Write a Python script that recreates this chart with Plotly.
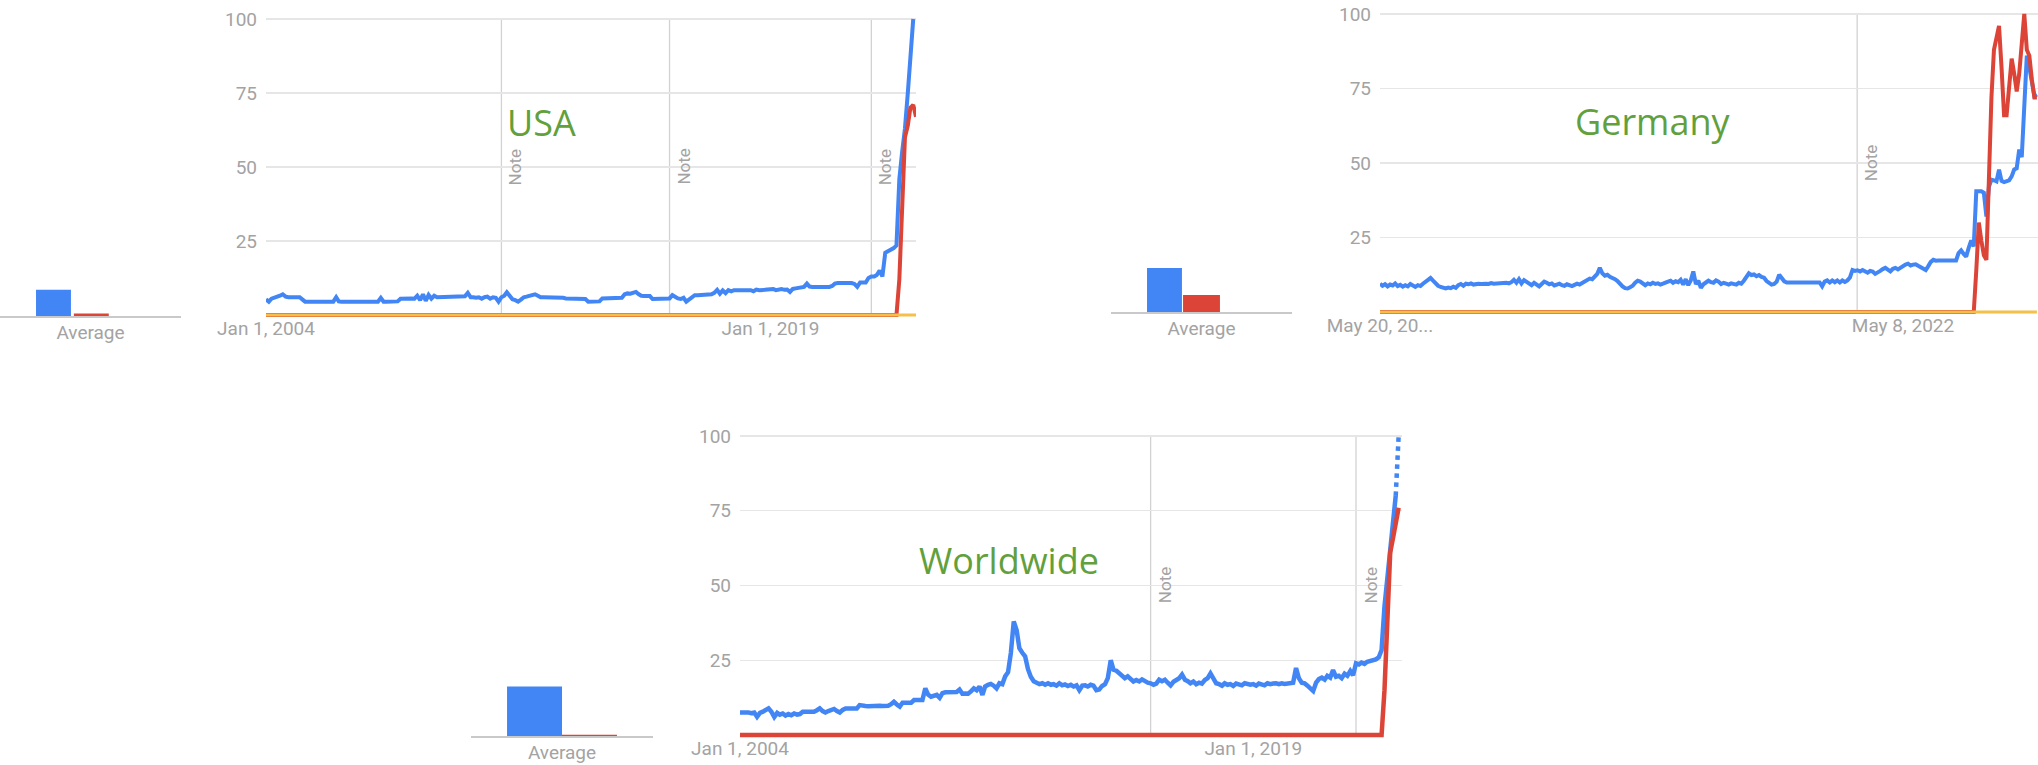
import pandas as pd
import plotly.graph_objects as go

W, H = 2038, 765

# ---------------- data ----------------
# USA, monthly, Jan 2004 - May 2023
usa_months = pd.date_range("2004-01-01", "2023-05-01", freq="MS")
usa_blue = [
    5.3, 4.5, 5.5, 5.8, 6.0, 6.5, 7.0, 6.2, 6.0, 6.0, 6.0, 6.0,      # 2004
    6.0, 5.2, 4.5, 4.5, 4.5, 4.5, 4.5, 4.5, 4.5, 4.5, 4.5, 4.5,      # 2005
    4.5, 6.0, 4.6, 4.5, 4.5, 4.5, 4.5, 4.5, 4.5, 4.5, 4.5, 4.5,      # 2006
    4.5, 4.5, 4.5, 4.5, 4.5, 5.8, 4.5, 4.5, 4.5, 4.5, 4.5, 4.6,      # 2007
    5.5, 5.6, 5.5, 5.6, 5.6, 5.5, 6.5, 5.0, 7.0, 4.8, 6.8, 5.5,      # 2008
    6.5, 6.0, 6.0, 6.0, 6.0, 6.1, 6.0, 6.0, 6.0, 6.2, 6.0, 6.3,      # 2009
    7.5, 6.0, 6.0, 5.8, 6.0, 5.5, 6.0, 6.2, 5.5, 6.0, 5.8, 4.5,      # 2010
    6.0, 6.5, 7.7, 6.2, 5.3, 5.0, 4.5, 5.2, 6.0, 6.2, 6.5, 7.0,      # 2011
    7.0, 6.5, 6.0, 6.0, 6.0, 6.0, 6.0, 6.0, 6.0, 6.0, 5.8, 5.6,      # 2012
    5.6, 5.6, 5.6, 5.6, 5.6, 5.6, 5.4, 4.5, 4.5, 4.5, 4.5, 4.6,      # 2013
    5.6, 5.6, 5.6, 5.6, 5.6, 5.6, 5.6, 5.8, 7.0, 7.3, 7.2, 7.4,      # 2014
    7.8, 7.0, 6.5, 6.4, 6.4, 6.4, 5.4, 5.4, 5.4, 5.4, 5.4, 5.4,      # 2015
    5.6, 6.7, 6.0, 5.6, 5.4, 5.8, 4.5, 5.2, 6.3, 6.7, 6.7, 6.7,      # 2016
    6.7, 6.8, 6.9, 7.0, 7.5, 8.5, 7.2, 8.3, 7.4, 8.4, 8.0, 8.4,      # 2017
    8.4, 8.4, 8.5, 8.3, 8.4, 8.4, 8.0, 8.6, 8.4, 8.6, 8.5, 8.6,      # 2018
    8.6, 8.8, 8.4, 8.6, 8.8, 8.5, 8.6, 7.8, 8.8, 9.0, 9.2, 9.3,      # 2019
    9.5, 10.6, 9.6, 9.5, 9.5, 9.5, 9.4, 9.5, 9.6, 9.5, 9.8, 10.6,    # 2020
    10.8, 10.8, 10.7, 10.9, 10.8, 10.8, 10.5, 9.5, 11.0, 11.0, 11.0, 12.5,  # 2021
    13.0, 13.0, 13.5, 15.0, 13.0, 21.0, 21.5, 22.4, 22.6, 23.5, 46.0, 55.0,  # 2022
    63.0, 75.0, 88.0, 100.0, None,                                   # 2023
]
usa_red = [0] * 226 + [12, 36, 60, 64, 70, 71, 67]
usa_yellow = [0] * 233
usa_avg = [8.8, 0.8]
usa_ticks = ["2004-01-01", "2019-01-01"]
usa_ticktext = ["Jan 1, 2004", "Jan 1, 2019"]
usa_notes = ["2011-01-01", "2016-01-01", "2022-01-01"]

# Worldwide, monthly, Jan 2004 - Apr 2023
world_months = pd.date_range("2004-01-01", "2023-04-01", freq="MS")
world_blue = [
    7.5, 7.6, 7.4, 7.5, 7.3, 7.5, 6.1, 7.4, 7.8, 8.2, 8.9, 7.8,      # 2004
    6.0, 7.4, 6.8, 7.2, 6.5, 7.0, 6.6, 7.2, 6.8, 7.0, 7.8, 7.8,      # 2005
    7.8, 7.9, 7.8, 8.3, 8.9, 8.0, 7.5, 8.0, 8.3, 8.7, 8.0, 7.5,      # 2006
    8.4, 8.9, 8.9, 8.8, 8.9, 8.9, 10.0, 9.7, 9.7, 9.6, 9.7, 9.7,     # 2007
    9.7, 9.8, 9.7, 9.7, 9.8, 10.3, 11.1, 10.2, 9.5, 10.8, 10.8, 10.9,  # 2008
    10.8, 11.7, 11.7, 11.8, 11.7, 15.6, 13.5, 12.8, 13.2, 13.4, 12.4, 14.0,  # 2009
    14.3, 14.3, 14.2, 14.3, 14.4, 15.2, 13.8, 13.9, 13.8, 14.6, 15.6, 15.0,  # 2010
    16.2, 13.4, 16.2, 16.8, 17.1, 16.5, 15.6, 17.3, 17.0, 19.6, 21.0, 27.4,  # 2011
    38.0, 35.0, 29.0, 27.5, 26.3, 22.0, 19.5, 18.0, 17.3, 17.0, 17.3, 16.8,  # 2012
    17.3, 16.8, 17.0, 16.5, 17.3, 16.6, 16.9, 16.4, 16.8, 16.2, 16.6, 15.0,  # 2013
    16.5, 16.6, 16.2, 16.8, 16.5, 15.0, 15.2, 16.4, 17.0, 19.0, 25.0, 21.8,  # 2014
    21.5, 20.5, 19.6, 19.0, 19.6, 18.5, 17.9, 18.4, 17.9, 18.6, 17.9, 17.5,  # 2015
    17.3, 16.8, 17.2, 18.5, 18.0, 18.5, 17.5, 16.6, 17.8, 18.4, 19.0, 20.2,  # 2016
    18.5, 18.0, 17.3, 17.9, 17.0, 17.5, 17.2, 18.4, 19.0, 20.6, 18.5, 17.3,  # 2017
    17.0, 16.5, 17.3, 16.8, 17.0, 16.4, 17.2, 16.9, 16.6, 17.3, 17.0, 16.8,  # 2018
    17.0, 16.5, 17.2, 17.0, 16.6, 17.3, 17.0, 17.2, 17.3, 17.0, 17.3, 17.1,  # 2019
    17.3, 17.2, 17.5, 22.4, 19.0, 17.5, 17.3, 16.5, 15.8, 14.7, 17.5, 18.7,  # 2020
    19.2, 18.5, 19.8, 19.2, 21.7, 19.5, 19.8, 19.0, 20.5, 19.8, 21.4, 20.0,  # 2021
    24.0, 23.6, 24.2, 23.8, 24.5, 24.8, 25.0, 25.3, 26.0, 28.4, 43.0, 52.0,  # 2022
    61.0, 70.0, 80.0, 100.0,                                          # 2023
]
world_red = [0] * 226 + [15, 38, 61, 66, 71, 76]
world_avg = [16.5, 0.4]
world_ticks = ["2004-01-01", "2019-01-01"]
world_ticktext = ["Jan 1, 2004", "Jan 1, 2019"]
world_notes = ["2016-01-01", "2022-01-01"]

# Germany, weekly, May 20 2018 - May 14 2023
germany_weeks = pd.date_range("2018-05-20", "2023-05-14", freq="7D")
germany_blue = [
    9.5, 8.8, 9.3, 8.6, 9.2, 8.9, 9.6, 8.7, 9.1, 8.5, 9.0, 8.6, 9.4, 8.8, 8.4, 9.0, 8.7, 9.5, 10.2,
    10.8, 11.4, 10.5,
    9.6, 8.8, 8.4, 8.0, 7.9, 8.2, 8.0, 8.5, 8.1,
    9.0, 9.4, 8.8, 9.5, 9.3, 9.6, 9.2, 9.4, 9.5, 9.4, 9.6, 9.5, 9.4, 9.7, 9.5, 9.6, 9.5, 9.7, 9.6, 9.8, 9.6, 10.0,
    10.8, 9.8, 11.0, 9.6, 10.7, 10.0,
    9.5, 9.0, 9.8, 9.2, 8.6, 9.4, 10.2, 9.8, 9.3, 9.6, 8.9, 9.2, 9.5, 9.0, 8.8, 9.3, 9.0, 8.7, 9.1, 9.5, 9.2, 9.8, 10.3, 10.8,
    11.2, 11.0, 12.0, 12.8, 14.8,
    13.0, 12.2, 12.5, 11.8, 11.5, 11.0, 10.4,
    9.4, 8.6, 8.0, 7.9, 8.3, 8.8,
    9.8, 10.5, 10.2, 9.4,
    9.0, 9.6, 9.3, 9.8, 9.4, 9.6, 9.2, 9.5, 9.7,
    10.2, 10.5, 9.8, 10.3, 10.0,
    10.8, 9.2, 11.0, 9.0, 10.6, 13.6, 9.4, 10.5, 8.1,
    9.3, 9.9, 10.5, 10.0, 9.8, 10.6, 10.2, 9.4, 9.8, 9.5, 9.2, 9.6, 9.4, 9.2, 9.8, 9.5, 10.5, 11.8,
    13.0, 12.4, 12.6, 12.0, 12.4, 11.8, 11.5,
    10.4, 9.6, 9.2, 9.4, 10.2,
    12.5, 11.2, 10.3,
    9.9, 9.9, 9.9, 9.9, 9.9, 9.9, 9.9, 9.9, 9.9, 9.9, 9.9, 9.9, 9.9, 9.9,
    8.6,
    10.2, 10.6, 9.9, 10.6, 10.0, 10.6, 9.9, 10.6, 10.1, 10.6, 11.6,
    14.1, 13.8, 14.0,
    13.6, 14.1, 13.7, 13.2, 13.8, 13.6, 12.8,
    13.2, 13.8, 14.4, 14.8, 14.2, 13.6, 14.5, 14.8, 14.3,
    14.9, 15.3, 15.9, 16.2, 15.6, 15.9, 16.0, 15.5,
    15.0, 14.4, 14.1, 15.4, 16.8,
    17.5, 17.2, 17.3, 17.4, 17.2, 17.3, 17.3, 17.2, 17.4, 17.3,
    19.8, 20.7, 19.5, 18.6, 21.5, 24.0, 22.0,
    40.5, 40.5, 40.5, 40.0,
    32.0,
    42.0, 44.4, 44.2, 43.8,
    47.8,
    44.0, 43.6, 43.8, 44.2, 45.5,
    47.8, 48.2,
    54.5, 52.0, 71.0, 86.0, 82.0, 78.0, 72.5, 73.0,
]
germany_red = [0] * 236 + [14, 30, 24, 19, 17.5, 45, 72, 88, 92, 96, 82, 66, 66, 75, 85,
                           80, 74, 80, 90, 100, 88, 86, 78, 72, 72]
germany_yellow = [0] * 261
germany_avg = [14.8, 5.7]
germany_ticks = ["2018-05-20", "2022-05-08"]
germany_ticktext = ["May 20, 20...", "May 8, 2022"]
germany_notes = ["2022-01-01"]

# ---------------- styling ----------------
BLUE = "#4285f4"
RED = "#db4437"
YELLOW = "#f4c04a"
GREEN = "#62a03c"
GRID = "#e6e6e6"
NOTE_LINE = "#d2d2d2"
TXT = "#a3a3a3"
BASE = "#c9c9c9"
TICKFONT = dict(family="Roboto", size=19, color=TXT)

fig = go.Figure()
layout = dict(
    template="none",
    width=W, height=H, margin=dict(l=0, r=0, t=0, b=0, pad=0, autoexpand=False),
    paper_bgcolor="white", plot_bgcolor="white",
    showlegend=False, barmode="overlay",
    annotations=[], shapes=[],
)


def line_panel(idx, xpx, y0, y100, xrange, ticks, ticktext, notes):
    s = (y0 - y100) / 100.0
    layout[f"xaxis{idx}"] = dict(
        domain=[xpx[0] / W, xpx[1] / W], range=xrange, type="date",
        tickvals=ticks, ticktext=ticktext, tickfont=TICKFONT, showgrid=False,
        zeroline=False, showline=False, ticks="", anchor=f"y{idx}",
        automargin=False, ticklabelstandoff=-6,
    )
    layout[f"yaxis{idx}"] = dict(
        domain=[1 - (y0 + 2 * s) / H, 1 - (y100 - 2 * s) / H], range=[-2, 102],
        tickvals=[25, 50, 75, 100], ticktext=["25", "50", "75", "100"],
        tickfont=TICKFONT, gridcolor=GRID, gridwidth=1.3, zeroline=False,
        showline=False, ticks="", anchor=f"x{idx}", ticklabelstandoff=8,
        automargin=False,
    )
    for d in notes:
        layout["shapes"].append(dict(
            type="line", xref=f"x{idx}", yref=f"y{idx}", x0=d, x1=d, y0=0, y1=100,
            line=dict(color=NOTE_LINE, width=1.3), layer="below"))
        layout["annotations"].append(dict(
            xref=f"x{idx}", yref=f"y{idx}", x=d, y=50, text="Note", textangle=-90,
            showarrow=False, xanchor="left", yanchor="middle", xshift=2,
            font=dict(family="Roboto", size=17, color=TXT)))


def bar_panel(idx, xpx, y0, y100, values, offsets, widths):
    layout[f"xaxis{idx}"] = dict(
        domain=[xpx[0] / W, xpx[1] / W], type="category", range=[-0.5, 0.5],
        showgrid=False, zeroline=False, showline=True, linecolor=BASE, linewidth=2,
        ticks="", tickfont=TICKFONT, anchor=f"y{idx}", automargin=False,
        ticklabelstandoff=-2,
    )
    layout[f"yaxis{idx}"] = dict(
        domain=[1 - y0 / H, 1 - y100 / H], range=[0, 100], visible=False,
        anchor=f"x{idx}", automargin=False,
    )
    for v, off, w, c in zip(values, offsets, widths, [BLUE, RED]):
        fig.add_trace(go.Bar(
            x=["Average"], y=[v], offset=off, width=w, marker=dict(color=c, line=dict(width=0)),
            xaxis=f"x{idx}", yaxis=f"y{idx}", hoverinfo="skip"))


def add_line(idx, x, y, color, width, dash="solid"):
    fig.add_trace(go.Scatter(
        x=x, y=y, mode="lines", line=dict(color=color, width=width, dash=dash),
        xaxis=f"x{idx}", yaxis=f"y{idx}", connectgaps=False, hoverinfo="skip"))


def label(text, px, py):
    layout["annotations"].append(dict(
        xref="paper", yref="paper", x=px / W, y=1 - py / H, text=text, showarrow=False,
        xanchor="center", yanchor="middle",
        font=dict(family="Open Sans", size=36, color=GREEN)))


# USA
line_panel("", (266, 916), 315, 19, ["2004-01-01", "2023-05-01"], usa_ticks, usa_ticktext, usa_notes)
add_line("", usa_months, usa_blue, BLUE, 4)
add_line("", usa_months, usa_red, RED, 4)
add_line("", usa_months, usa_yellow, YELLOW, 3)
bar_panel(2, (0, 181), 316, 19, usa_avg, [-0.301, -0.092], [0.193, 0.193])
label("USA", 541, 123)

# Germany
line_panel(3, (1380, 2038), 312, 14, ["2018-05-20", "2023-05-17"], germany_ticks, germany_ticktext, germany_notes)
add_line(3, germany_weeks, germany_blue, BLUE, 4)
add_line(3, germany_weeks, germany_red, RED, 4)
add_line(3, germany_weeks, germany_yellow, YELLOW, 3)
bar_panel(4, (1111, 1292), 312, 14, germany_avg, [-0.301, -0.102], [0.193, 0.204])
label("Germany", 1653, 122)

# Worldwide
line_panel(5, (740, 1402), 735, 436, ["2004-01-01", "2023-05-07"], world_ticks, world_ticktext, world_notes)
add_line(5, world_months[:231], world_blue[:231], BLUE, 4.5)
add_line(5, world_months[230:], world_blue[230:], BLUE, 4.5, dash="dot")
add_line(5, world_months, world_red, RED, 4.5)
bar_panel(6, (471, 653), 736, 436, world_avg, [-0.302, 0.0], [0.302, 0.302])
label("Worldwide", 1009, 560)

fig.update_layout(**layout)
fig.write_html(
    "out.html",
    config={"displayModeBar": False, "staticPlot": True},
    post_script="document.body.style.margin='0';document.body.style.padding='0';"
                "document.body.style.overflow='hidden';",
)
